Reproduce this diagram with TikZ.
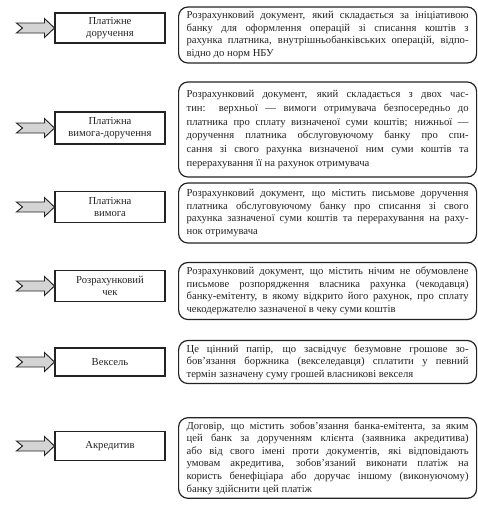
\documentclass[tikz,border=0pt]{standalone}
\usepackage{fontspec}
\setmainfont{Liberation Serif}
\usepackage{xcolor}
\usepackage{tikz}
\usetikzlibrary{positioning}
\definecolor{inkgray}{RGB}{35,35,35}
\definecolor{ptrgray}{RGB}{212,212,212}
\hyphenpenalty=10000
\exhyphenpenalty=10000
\tolerance=9000

\begin{document}
\begin{tikzpicture}[
  x=0.75pt, y=-0.75pt,
  every node/.style={font=\fontsize{8}{9.4}\selectfont, text=inkgray},
  lbox/.style={draw=inkgray, line width=0.8pt, minimum width=82.5pt,
    minimum height=22.5pt, align=center, inner sep=2pt},
  dbox/.style={draw=inkgray, line width=0.9pt, rounded corners=7pt,
    text width=211.5pt, inner xsep=6pt, inner ysep=3pt,
    align=justify, anchor=west},
  ptr/.pic={
    \draw[draw=inkgray, fill=ptrgray, line width=0.7pt, line join=miter]
      (-38,-5) -- (-10,-5) -- (-10,-9.5) -- (0,0) -- (-10,9.5)
      -- (-10,5) -- (-38,5) -- (-32,0) -- cycle;
  }
]
\useasboundingbox (0,0) rectangle (478,508);

% Types of documents
\node[lbox, minimum height=22.5pt] (pdor)  at (110,28)  {Платіжне\\доручення};
\node[lbox, minimum height=24pt]   (pvdor) at (110,128) {Платіжна\\вимога-доручення};
\node[lbox, minimum height=23pt]   (pvym)  at (110,207) {Платіжна\\вимога};
\node[lbox, minimum height=23pt]   (chek)  at (110,286) {Розрахунковий\\чек};
\node[lbox, minimum height=21pt]   (veks)  at (110,362) {Вексель};
\node[lbox, minimum height=22pt]   (akr)   at (110,446) {Акредитив};

% Pointers into the boxes
\pic at (pdor.west)  {ptr};
\pic at (pvdor.west) {ptr};
\pic at (pvym.west)  {ptr};
\pic at (chek.west)  {ptr};
\pic at (veks.west)  {ptr};
\pic at (akr.west)   {ptr};

% Definitions
\node[dbox, minimum height=42pt] (dpdor) at (178,35)
  {Розрахунковий документ, який складається за ініціативою\linebreak
   банку для оформлення операцій зі списання коштів з\linebreak
   рахунка платника, внутрішньобанківських операцій, відпо-\linebreak
   відно до норм НБУ};

\node[dbox, minimum height=71.25pt, font=\fontsize{8}{10.4}\selectfont]
  (dpvdor) at (178,129.5)
  {Розрахунковий документ, який складається з двох час-\linebreak
   тин: верхньої — вимоги отримувача безпосередньо до\linebreak
   платника про сплату визначеної суми коштів; нижньої —\linebreak
   доручення платника обслуговуючому банку про спи-\linebreak
   сання зі свого рахунка визначеної ним суми коштів та\linebreak
   перерахування її на рахунок отримувача};

\node[dbox, minimum height=45pt] (dpvym) at (178,213)
  {Розрахунковий документ, що містить письмове доручення\linebreak
   платника обслуговуючому банку про списання зі свого\linebreak
   рахунка зазначеної суми коштів та перерахування на раху-\linebreak
   нок отримувача};

\node[dbox, minimum height=42.75pt] (dchek) at (178,291)
  {Розрахунковий документ, що містить нічим не обумовлене\linebreak
   письмове розпорядження власника рахунка (чекодавця)\linebreak
   банку-емітенту, в якому відкрито його рахунок, про сплату\linebreak
   чекодержателю зазначеної в чеку суми коштів};

\node[dbox, minimum height=31.5pt] (dveks) at (178,362)
  {Це цінний папір, що засвідчує безумовне грошове зо-\linebreak
   бов’язання боржника (векселедавця) сплатити у певний\linebreak
   термін зазначену суму грошей власникові векселя};

\node[dbox, minimum height=58.5pt] (dakr) at (178,458)
  {Договір, що містить зобов’язання банка-емітента, за яким\linebreak
   цей банк за дорученням клієнта (заявника акредитива)\linebreak
   або від свого імені проти документів, які відповідають\linebreak
   умовам акредитива, зобов’язаний виконати платіж на\linebreak
   користь бенефіціара або доручає іншому (виконуючому)\linebreak
   банку здійснити цей платіж};

\end{tikzpicture}
\end{document}
